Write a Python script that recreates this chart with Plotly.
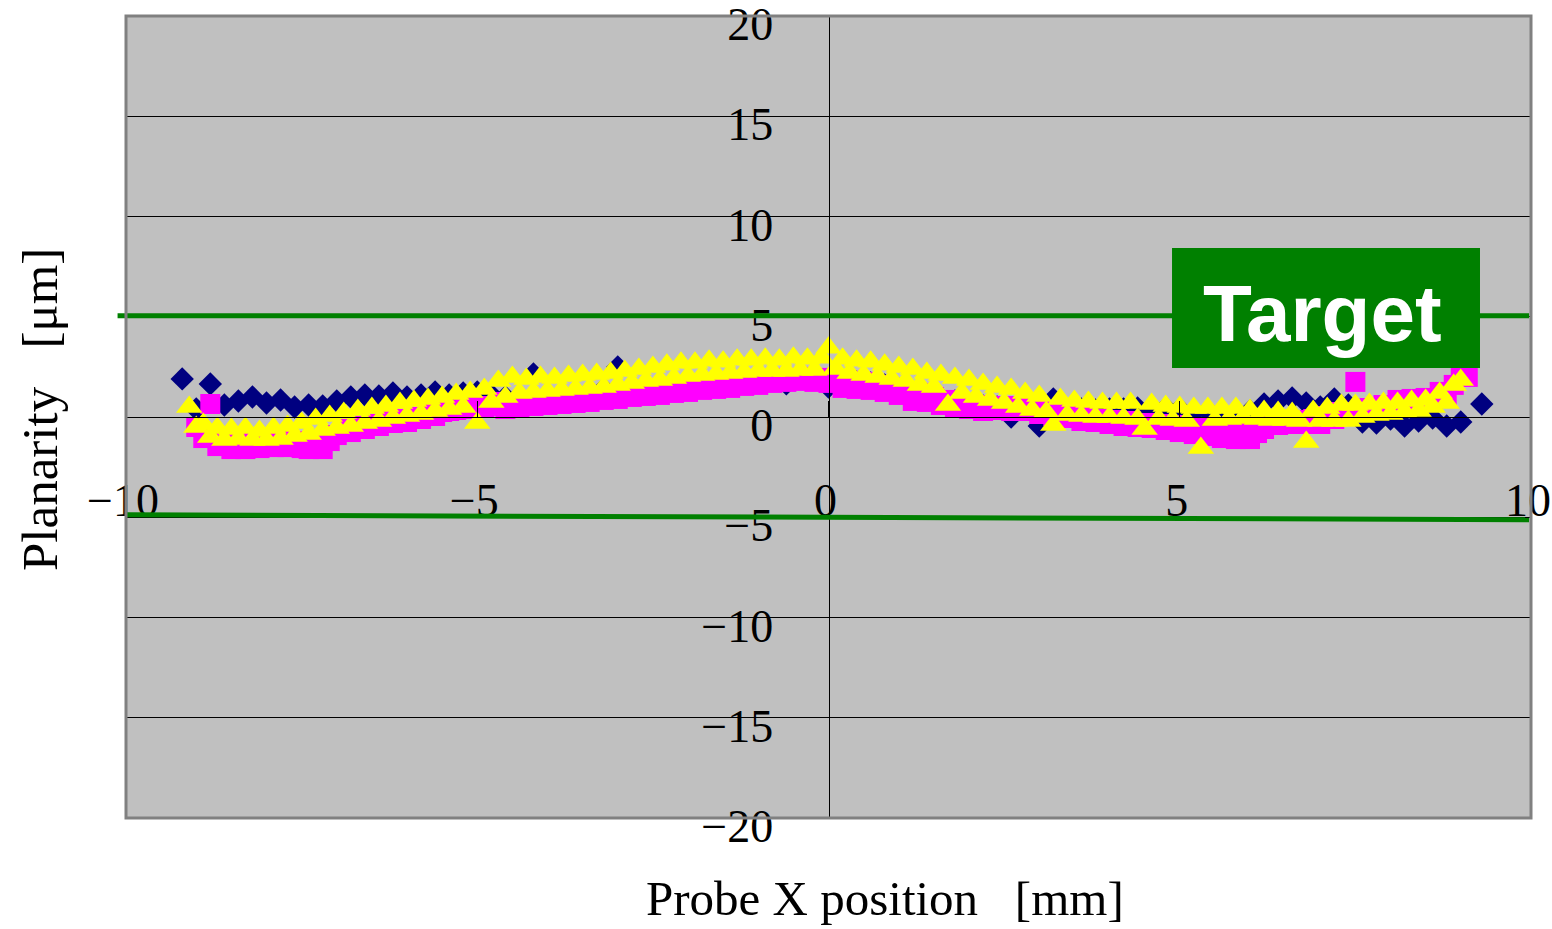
import plotly.graph_objects as go

# x grid of the two dense series (mm), 0.1 mm pitch from -9.1 to 9.1
x_fine = [round(-9.1 + 0.1 * i, 1) for i in range(183)]

yellow_vals = [
    0.5, -0.5, -0.35, -1.0, -0.55, -1.15, -0.6, -1.1, -0.55, -1.15,
    -0.7, -1.15, -0.55, -1.1, -0.45, -0.95, -0.3, -0.85, -0.1, -0.65,
    0.05, -0.55, 0.2, -0.45, 0.35, -0.3, 0.45, -0.2, 0.55, -0.05,
    0.7, 0.05, 0.8, 0.15, 0.9, 0.3, 1.0, 0.4, 1.15, 0.5,
    1.25, -0.3, 1.4, 0.75, 1.8, 1.0, 2.0, 1.2, 1.9, 1.25,
    2.0, 1.3, 1.95, 1.35, 2.05, 1.4, 2.1, 1.45, 2.15, 1.5,
    2.2, 1.6, 2.3, 1.7, 2.4, 1.8, 2.5, 1.85, 2.6, 1.95,
    2.7, 2.05, 2.7, 2.1, 2.8, 2.15, 2.75, 2.2, 2.85, 2.25,
    2.85, 2.3, 2.9, 2.3, 2.85, 2.3, 2.95, 2.35, 2.9, 2.35,
    2.95, 3.45, 2.4, 2.9, 2.2, 2.8, 2.1, 2.75, 2.0, 2.6,
    1.9, 2.5, 1.8, 2.4, 1.6, 2.2, 1.5, 2.1, 0.6, 1.95,
    1.2, 1.85, 1.0, 1.65, 0.85, 1.5, 0.7, 1.4, 0.5, 1.2,
    0.35, 1.05, 0.25, -0.4, 0.9, 0.1, 0.8, 0.05, 0.75, 0.0,
    0.7, 0.0, 0.7, -0.05, 0.7, -0.1, -0.6, 0.65, -0.1, 0.55,
    -0.15, 0.5, -0.2, 0.45, -1.55, 0.45, -0.15, 0.45, -0.1, 0.45,
    -0.05, 0.35, -0.1, 0.3, -0.15, 0.25, -0.15, 0.2, -0.2, -1.25,
    0.3, -0.2, 0.45, -0.2, 0.6, -0.2, 0.6, 0.0, 0.65, 0.1,
    0.7, 0.15, 0.7, 0.25, 0.8, 0.3, 0.85, 0.5, 1.2, 0.7,
    1.6, 1.85, None]

magenta_vals = [
    None, -0.5, -1.05, 0.65, -1.45, -1.2, -1.6, -1.25, -1.6, -1.3,
    -1.55, -1.2, -1.5, -1.15, -1.5, -1.2, -1.55, -1.6, -1.25, -1.6,
    -1.2, -0.9, -0.6, -0.75, -0.45, -0.6, -0.35, -0.45, -0.2, -0.3,
    -0.1, -0.25, 0.0, -0.1, 0.15, 0.05, 0.25, 0.3, 0.35, 0.45,
    0.4, 0.55, 0.5, 0.55, 0.75, 0.4, 0.7, 0.45, 0.75, 0.55,
    0.8, 0.6, 0.85, 0.65, 0.95, 0.7, 1.0, 0.75, 1.05, 0.85,
    1.15, 0.9, 1.2, 1.0, 1.35, 1.05, 1.4, 1.1, 1.45, 1.2,
    1.55, 1.25, 1.6, 1.35, 1.65, 1.4, 1.75, 1.45, 1.8, 1.55,
    1.85, 1.6, 1.9, 1.7, 1.95, 1.75, 1.95, 1.8, 2.0, 1.75,
    1.95, 1.7, 1.85, 1.45, 1.8, 1.4, 1.75, 1.35, 1.6, 1.25,
    1.45, 1.1, 1.3, 0.8, 1.2, 0.75, 1.0, 0.6, 0.85, 0.45,
    0.7, 0.4, 0.6, 0.3, 0.55, 0.35, 0.55, 0.3, 0.5, 0.3,
    0.45, 0.15, 0.35, 0.05, 0.2, -0.05, 0.1, -0.2, 0.0, -0.25,
    -0.1, -0.35, -0.15, -0.45, -0.2, -0.5, -0.3, -0.55, -0.35, -0.65,
    -0.4, -0.75, -0.5, -0.85, -0.55, -0.95, -0.6, -1.05, -0.7, -1.1,
    -0.75, -1.1, -0.8, -0.6, -0.3, -0.4, -0.2, -0.35, -0.15, -0.35,
    -0.1, -0.35, 0.05, -0.1, 0.25, 0.1, 1.75, 0.3, 0.45, 0.35,
    0.6, 0.5, 0.85, 0.6, 0.9, 0.65, 0.95, 0.8, 1.25, 1.1,
    1.6, 2.0, 2.0]

# navy series, 0.2 mm pitch
x_navy = [-9.2, -9.0, -8.8, -8.6, -8.4, -8.2, -8.0, -7.8, -7.6, -7.4,
          -7.2, -7.0, -6.8, -6.6, -6.4, -6.2, -6.0, -5.8, -5.6, -5.4,
          -5.2, -5.0, -4.8, -4.6, -4.4, -4.2, -4.0, -3.8, -3.6, -3.4,
          -3.2, -3.0, -2.8, -2.6, -2.4, -2.2, -2.0, -1.8, -1.6, -1.4,
          -1.2, -1.0, -0.8, -0.6, -0.4, -0.2, 0.0, 0.2, 0.4, 0.6,
          0.8, 1.0, 1.2, 1.4, 1.6, 1.8, 2.0, 2.2, 2.4, 2.6,
          2.8, 3.0, 3.2, 3.4, 3.6, 3.8, 4.0, 4.2, 4.4, 4.6,
          4.8, 5.0, 5.2, 5.4, 5.6, 5.8, 6.0, 6.2, 6.4, 6.6,
          6.8, 7.0, 7.2, 7.4, 7.6, 7.8, 8.0, 8.2, 8.4, 8.6,
          8.8, 9.0, 9.3]
navy_vals = [1.9, 0.4, 1.65, 0.6, 0.8, 1.0, 0.7, 0.85, 0.5, 0.6,
             0.55, 0.8, 1.0, 1.1, 1.05, 1.2, 1.0, 1.1, 1.25, 1.1,
             1.2, 1.25, 1.1, 1.0, 1.05, 2.15, 1.1, 1.2, 1.25, 1.3,
             1.4, 2.5, 1.5, 1.55, 1.6, 1.7, 1.75, 1.8, 1.85, 1.9,
             1.95, 2.0, 2.0, 1.65, 2.0, 2.0, 1.5, 1.85, 1.75, 1.7,
             1.6, 1.4, 1.2, 1.0, 0.95, 0.8, 0.6, 0.55, 0.5, 0.0,
             0.5, -0.45, 0.9, 0.3, 0.4, 0.35, 0.4, 0.4, 0.45, 0.4,
             0.45, 0.4, 0.2, 0.3, 0.15, 0.2, 0.3, 0.65, 0.8, 0.95,
             0.7, 0.5, 0.9, 0.6, -0.25, -0.3, -0.1, -0.45, -0.2, -0.05,
             -0.45, -0.25, 0.65]

target_upper = [5.05, 5.05]
target_lower = [-4.88, -5.12]

x_ticks = [-10, -5, 0, 5, 10]
y_ticks = [-20, -15, -10, -5, 0, 5, 10, 15, 20]

serif = "Liberation Serif"

fig = go.Figure()
fig.add_trace(go.Scatter(x=x_navy, y=navy_vals, mode="markers",
                         marker=dict(symbol="diamond", size=18, color="#000080", line=dict(width=0)),
                         cliponaxis=False))
fig.add_trace(go.Scatter(x=x_fine, y=magenta_vals, mode="markers",
                         marker=dict(symbol="square", size=20, color="#FF00FF", line=dict(width=0)),
                         cliponaxis=False))
fig.add_trace(go.Scatter(x=x_fine, y=yellow_vals, mode="markers",
                         marker=dict(symbol="triangle-up", size=23, color="#FFFF00", line=dict(width=0)),
                         cliponaxis=False))

# target lines
fig.add_shape(type="line", xref="paper", yref="y", x0=-0.006, x1=0.9986,
              y0=target_upper[0], y1=target_upper[1], line=dict(color="#008000", width=5))
fig.add_shape(type="line", xref="paper", yref="y", x0=0.0, x1=0.9986,
              y0=target_lower[0], y1=target_lower[1], line=dict(color="#008000", width=5))
# plot border
fig.add_shape(type="rect", xref="paper", yref="paper", x0=0, x1=1, y0=0, y1=1,
              line=dict(color="#808080", width=3))
# target box
fig.add_shape(type="rect", xref="paper", yref="paper", x0=0.7445, x1=0.9637, y0=0.5611, y1=0.7107,
              fillcolor="#008000", line=dict(width=0))
fig.add_annotation(x=(1322 - 126) / 1405, y=(818 - 314) / 802, xref="paper", yref="paper",
                   xanchor="center", yanchor="middle",
                   text="<b>Target</b>", showarrow=False,
                   font=dict(family="Liberation Sans", size=80, color="white"))

# axis titles
fig.add_annotation(x=(885 - 126) / 1405, y=(818 - 898) / 802, xref="paper", yref="paper",
                   xanchor="center", yanchor="middle",
                   text="Probe X position   [mm]", showarrow=False,
                   font=dict(family=serif, size=49, color="black"))
fig.add_annotation(x=(40 - 126) / 1405, y=(818 - 410) / 802, xref="paper", yref="paper",
                   xanchor="center", yanchor="middle",
                   text="Planarity   [μm]", showarrow=False, textangle=-90,
                   font=dict(family=serif, size=51, color="black"))

fig.update_layout(
    width=1552, height=929,
    margin=dict(l=126, r=21, t=16, b=111, autoexpand=False),
    plot_bgcolor="#C0C0C0", paper_bgcolor="white",
    showlegend=False,
    xaxis=dict(range=[-10, 10], anchor="free", position=0.5, tickvals=x_ticks,
               automargin=False,
               showline=True, linecolor="black", linewidth=1,
               ticks="inside", ticklen=16, tickcolor="black", tickwidth=1,
               showgrid=False, zeroline=False, ticklabelstandoff=43,
               ticklabelshift=-3, ticklabeloverflow="allow",
               tickfont=dict(family=serif, size=46, color="black")),
    yaxis=dict(range=[-20, 20], anchor="free", position=0.5, tickvals=y_ticks,
               automargin=False,
               showline=True, linecolor="black", linewidth=1,
               ticks="inside", ticklen=17, tickcolor="black", tickwidth=1,
               showgrid=True, gridcolor="black", gridwidth=1, zeroline=False,
               ticklabelstandoff=46, ticklabelshift=8, ticklabeloverflow="allow",
               tickfont=dict(family=serif, size=46, color="black")),
)

fig.write_html("out.html", config={"displayModeBar": False},
               post_script="document.body.style.margin='0';document.body.style.overflow='hidden';")
